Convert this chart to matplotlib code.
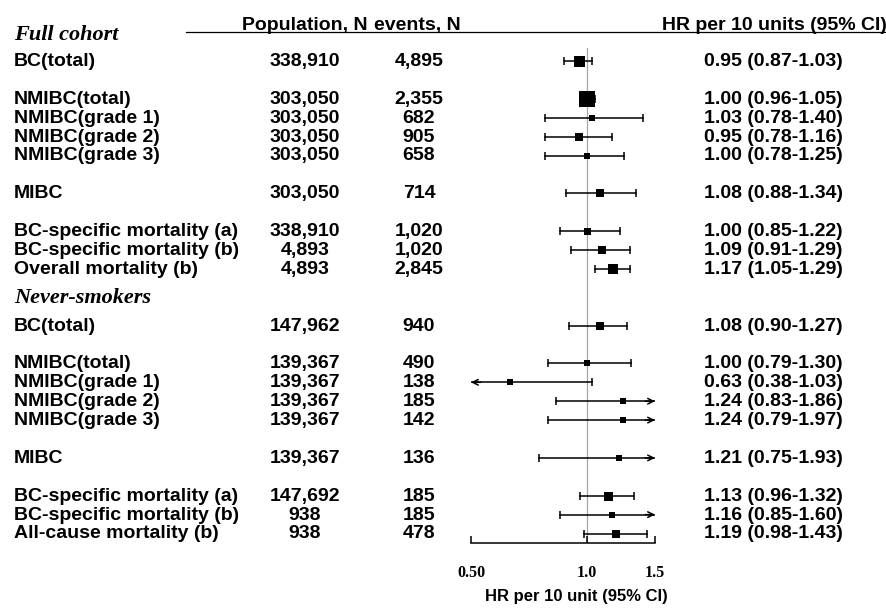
import matplotlib.pyplot as plt
from matplotlib.ticker import NullLocator

# full cohort
full_labels = ['BC(total)', 'NMIBC(total)', 'NMIBC(grade 1)', 'NMIBC(grade 2)',
               'NMIBC(grade 3)', 'MIBC', 'BC-specific mortality (a)',
               'BC-specific mortality (b)', 'Overall mortality (b)']
full_pop = [338910, 303050, 303050, 303050, 303050, 303050, 338910, 4893, 4893]
full_events = [4895, 2355, 682, 905, 658, 714, 1020, 1020, 2845]
full_hr = [0.95, 1.00, 1.03, 0.95, 1.00, 1.08, 1.00, 1.09, 1.17]
full_lo = [0.87, 0.96, 0.78, 0.78, 0.78, 0.88, 0.85, 0.91, 1.05]
full_hi = [1.03, 1.05, 1.40, 1.16, 1.25, 1.34, 1.22, 1.29, 1.29]

# never-smokers
never_labels = ['BC(total)', 'NMIBC(total)', 'NMIBC(grade 1)', 'NMIBC(grade 2)',
                'NMIBC(grade 3)', 'MIBC', 'BC-specific mortality (a)',
                'BC-specific mortality (b)', 'All-cause mortality (b)']
never_pop = [147962, 139367, 139367, 139367, 139367, 139367, 147692, 938, 938]
never_events = [940, 490, 138, 185, 142, 136, 185, 185, 478]
never_hr = [1.08, 1.00, 0.63, 1.24, 1.24, 1.21, 1.13, 1.16, 1.19]
never_lo = [0.90, 0.79, 0.38, 0.83, 0.79, 0.75, 0.96, 0.85, 0.98]
never_hi = [1.27, 1.30, 1.03, 1.86, 1.97, 1.93, 1.32, 1.60, 1.43]

xticks = [0.5, 1.0, 1.5]
xticklabels = ['0.50', '1.0', '1.5']

# layout (pixels of the 887x613 picture, rows in line units)
W, H = 887, 613
Y0, DY = 61, 18.9
BASE = 0.26  # baseline offset of a text line below its row centre
full_rows = [0, 2, 3, 4, 5, 7, 9, 10, 11]
never_rows = [14, 16, 17, 18, 19, 21, 23, 24, 25]
full_box = [11, 16, 6.5, 8, 6.5, 8, 7, 7.5, 9.5]   # square side in px
never_box = [7.5, 6.5, 6.5, 6.5, 6.5, 6, 9, 6.5, 8]
XMIN, XMAX = xticks[0], xticks[-1]

sans = dict(family='Liberation Sans', weight='bold', size=14, va='baseline')
serif = dict(family='Liberation Serif', weight='bold', style='italic', size=16,
             va='baseline')

fig = plt.figure(figsize=(W / 100, H / 100), dpi=100)
tab = fig.add_axes([0, 0, 1, 1])
tab.set_xlim(0, W)
tab.set_ylim((H - Y0) / DY, -Y0 / DY)
tab.axis('off')

fx0, fx1, fy0, fy1 = 471, 655, 48, 543
ax = fig.add_axes([fx0 / W, 1 - fy1 / H, (fx1 - fx0) / W, (fy1 - fy0) / H],
                  facecolor='none')
ax.set_xscale('log')
ax.set_xlim(XMIN, XMAX)
ax.set_ylim((fy1 - Y0) / DY, (fy0 - Y0) / DY)

# headers
hy = (30 - Y0) / DY
tab.text(305, hy, 'Population, N', ha='center', **sans)
tab.text(417, hy, 'events, N', ha='center', **sans)
tab.text(774, hy, 'HR per 10 units (95% CI)', ha='center', **sans)
tab.plot([186, 885], [(32 - Y0) / DY] * 2, color='k', lw=0.9)
tab.text(14, (40 - Y0) / DY, 'Full cohort', ha='left', **serif)
tab.text(14, (303 - Y0) / DY, 'Never-smokers', ha='left', **serif)

ax.axvline(1.0, color='#a6a6a6', lw=0.9, zorder=1)


def draw_group(labels, pop, events, hr, lo, hi, rows, box):
    for i in range(len(labels)):
        y = rows[i]
        ty = y + BASE
        tab.text(14, ty, labels[i], ha='left', **sans)
        tab.text(305, ty, f'{pop[i]:,}', ha='center', **sans)
        tab.text(419, ty, f'{events[i]:,}', ha='center', **sans)
        tab.text(704, ty, f'{hr[i]:.2f} ({lo[i]:.2f}-{hi[i]:.2f})',
                 ha='left', **sans)
        a = max(lo[i], XMIN)
        b = min(hi[i], XMAX)
        ax.plot([a, b], [y, y], color='k', lw=1.1, zorder=2)
        arr = dict(arrowstyle='->,head_length=0.4,head_width=0.2', lw=1.1,
                   color='k', shrinkA=0, shrinkB=0)
        if lo[i] < XMIN:
            ax.annotate('', xy=(XMIN, y), xytext=(a * 1.06, y), arrowprops=arr)
        else:
            ax.plot(a, y, marker='|', ms=5.5, mew=1.1, color='k')
        if hi[i] > XMAX:
            ax.annotate('', xy=(XMAX, y), xytext=(b / 1.06, y), arrowprops=arr)
        else:
            ax.plot(b, y, marker='|', ms=5.5, mew=1.1, color='k')
        ax.plot(hr[i], y, marker='s', ms=box[i] * 0.72, color='k', mew=0,
                zorder=3)


draw_group(full_labels, full_pop, full_events, full_hr, full_lo, full_hi,
           full_rows, full_box)
draw_group(never_labels, never_pop, never_events, never_hr, never_lo, never_hi,
           never_rows, never_box)

for s in ['left', 'top', 'right']:
    ax.spines[s].set_visible(False)
ax.spines['bottom'].set_linewidth(1.1)
ax.set_yticks([])
ax.set_xticks(xticks)
ax.set_xticklabels(xticklabels, family='Liberation Serif', weight='bold', size=11.5)
ax.xaxis.set_minor_locator(NullLocator())
ax.tick_params(axis='x', direction='in', length=5, width=1.1, pad=16)

tab.text(576, (597 - Y0) / DY, 'HR per 10 unit (95% CI)', ha='center',
         va='center', family='Liberation Sans', weight='bold', size=12)

plt.savefig('out.png', dpi=100)
